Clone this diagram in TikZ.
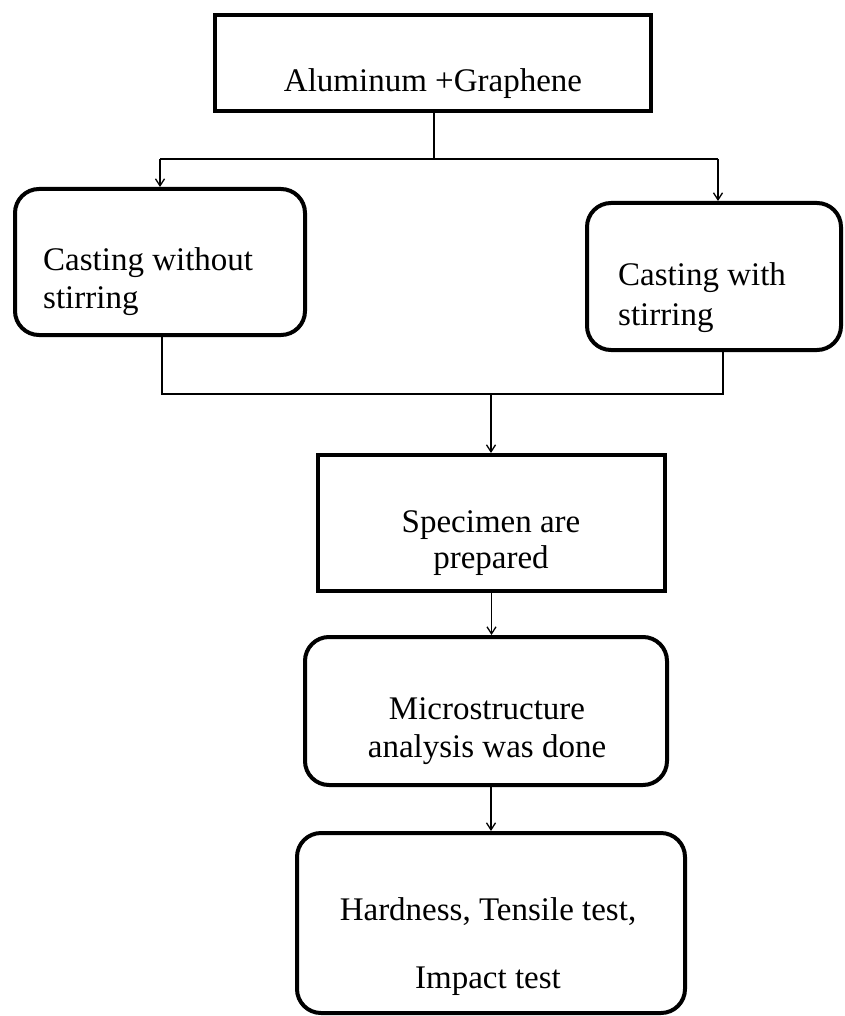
\documentclass[tikz,border=0pt]{standalone}
\usepackage{fontspec}
\setmainfont{Liberation Serif}
\usetikzlibrary{arrows.meta}
\begin{document}
\begin{tikzpicture}[x=1pt,y=-1pt,
  sqbox/.style={draw,line width=4pt,rectangle,inner sep=0pt},
  rbox/.style={draw,line width=4pt,rectangle,rounded corners=24pt,inner sep=0pt},
  txt/.style={inner sep=0pt,font=\fontsize{33}{38}\selectfont},
  conn/.style={line width=1.3pt},
  arr/.style={line width=1.3pt,-{Straight Barb[length=7pt,width=9pt,line width=1.3pt]}}]
\useasboundingbox (0,0) rectangle (844,1016);
% boxes
\node[sqbox,minimum width=436pt,minimum height=96pt] (top) at (433,63) {};
\node[rbox,minimum width=290pt,minimum height=146pt] (left) at (160,262) {};
\node[rbox,minimum width=254pt,minimum height=147pt] (right) at (714,276.5) {};
\node[sqbox,minimum width=347pt,minimum height=136pt] (spec) at (491.5,523) {};
\node[rbox,minimum width=362pt,minimum height=148pt] (micro) at (486,711) {};
\node[rbox,minimum width=388pt,minimum height=180pt] (bot) at (491,923) {};
% texts
\node[txt,anchor=base] (t1) at (433,92) {Aluminum +Graphene};
\node[txt,anchor=base west] (t2a) at (43,270) {Casting without};
\node[txt,anchor=base west] (t2b) at (43,308) {stirring};
\node[txt,anchor=base west] (t3a) at (618,285) {Casting with};
\node[txt,anchor=base west] (t3b) at (618,325) {stirring};
\node[txt,anchor=base] (t4a) at (491,532) {Specimen are};
\node[txt,anchor=base] (t4b) at (491,568) {prepared};
\node[txt,anchor=base] (t5a) at (487,719) {Microstructure};
\node[txt,anchor=base] (t5b) at (487,757) {analysis was done};
\node[txt,anchor=base] (t6a) at (488,920) {Hardness, Tensile test,};
\node[txt,anchor=base] (t6b) at (488,988) {Impact test};
% connectors
\coordinate (split) at (434,159);
\coordinate (splitL) at (160,159);
\coordinate (splitR) at (718,159);
\draw[conn] (top.south -| split) -- (split);
\draw[conn] (splitL) -- (splitR);
\draw[arr] (splitL) -- (splitL |- left.north);
\draw[arr] (splitR) -- (splitR |- right.north);
\coordinate (joinL) at (162,394);
\coordinate (joinR) at (723,394);
\coordinate (join) at (491,394);
\draw[conn] (joinL |- left.south) -- (joinL) -- (joinR) -- (joinR |- right.south);
\draw[arr] (join) -- (join |- spec.north);
\draw[arr] (spec.south) -- (spec.south |- micro.north);
\draw[arr] (bot.north |- micro.south) -- (bot.north);
\end{tikzpicture}
\end{document}
